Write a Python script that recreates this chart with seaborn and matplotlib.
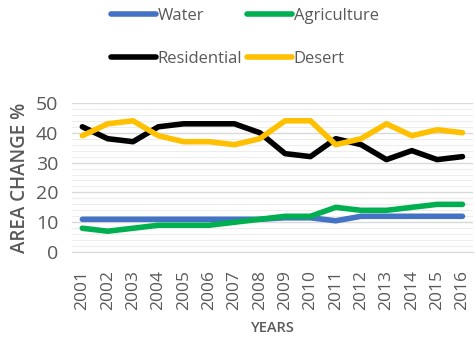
import numpy as np
import pandas as pd
import matplotlib
matplotlib.use("Agg")
import matplotlib.pyplot as plt
import seaborn as sns
from matplotlib.ticker import MultipleLocator, FixedLocator

years = list(range(2001, 2017))
water = [11, 11, 11, 11, 11, 11, 11, 11, 11.5, 11.5, 10.5, 12, 12, 12, 12, 12]
agriculture = [8, 7, 8, 9, 9, 9, 10, 11, 12, 12, 15, 14, 14, 15, 16, 16]
residential = [42, 38, 37, 42, 43, 43, 43, 40, 33, 32, 38, 36, 31, 34, 31, 32]
desert = [39, 43, 44, 39, 37, 37, 36, 38, 44, 44, 36, 38, 43, 39, 41, 40]

series = ["Water", "Agriculture", "Residential", "Desert"]
colors = ["#4472C4", "#00B050", "#000000", "#FFC000"]

df = pd.DataFrame({"Year": years, "Water": water, "Agriculture": agriculture,
                   "Residential": residential, "Desert": desert})
long = df.melt(id_vars="Year", var_name="Type", value_name="Value")

sns.set_style("white")
plt.rcParams["font.family"] = ["Open Sans", "DejaVu Sans"]
text_col = "#595959"

fig, ax = plt.subplots(figsize=(4.75, 3.43), dpi=100)
sns.lineplot(data=long, x="Year", y="Value", hue="Type", hue_order=series,
             palette=colors, linewidth=4, ax=ax, legend=False)

ax.set_ylim(0, 50)
ax.set_xlim(2000.6, 2016.4)
ax.yaxis.set_major_locator(MultipleLocator(10))
ax.yaxis.set_minor_locator(MultipleLocator(2))
ax.set_xticks(years)
ax.set_xticklabels([str(y) for y in years], rotation=90)
ax.xaxis.set_minor_locator(FixedLocator([y + 0.5 for y in years[:-1]] + [2000.6]))
ax.grid(which="major", axis="y", color="#D9D9D9", linewidth=1)
ax.grid(which="minor", axis="y", color="#EDEDED", linewidth=0.8)
ax.set_axisbelow(True)
for s in ["top", "right", "left"]:
    ax.spines[s].set_visible(False)
ax.spines["bottom"].set_color("#D9D9D9")
ax.tick_params(axis="x", which="major", colors=text_col, labelsize=12.5, length=0, pad=13)
ax.tick_params(axis="x", which="minor", color="#D9D9D9", length=5, width=1)
ax.tick_params(axis="y", colors=text_col, labelsize=14, length=0, pad=10)
ax.tick_params(axis="y", which="minor", length=0)
ax.set_xlabel("YEARS", color=text_col, fontsize=10.5, fontweight="semibold", labelpad=8)
ax.set_ylabel("AREA CHANGE %", color=text_col, fontsize=13.5, fontweight="semibold", labelpad=4)

# legend filled column-wise: rows read Water/Agriculture, Residential/Desert
order = [0, 2, 1, 3]
handles = [plt.Line2D([], [], color=colors[i], linewidth=4, solid_capstyle="round") for i in order]
labels = [series[i] for i in order]
fig.legend(handles, labels, loc="upper center", bbox_to_anchor=(0.515, 1.02), ncol=2,
           frameon=False, fontsize=12, labelcolor=text_col, handlelength=2.7,
           handletextpad=0.1, columnspacing=0.3, labelspacing=1.6)

fig.subplots_adjust(left=0.152, right=0.995, top=0.70, bottom=0.265)
fig.savefig("out.png", dpi=100)
